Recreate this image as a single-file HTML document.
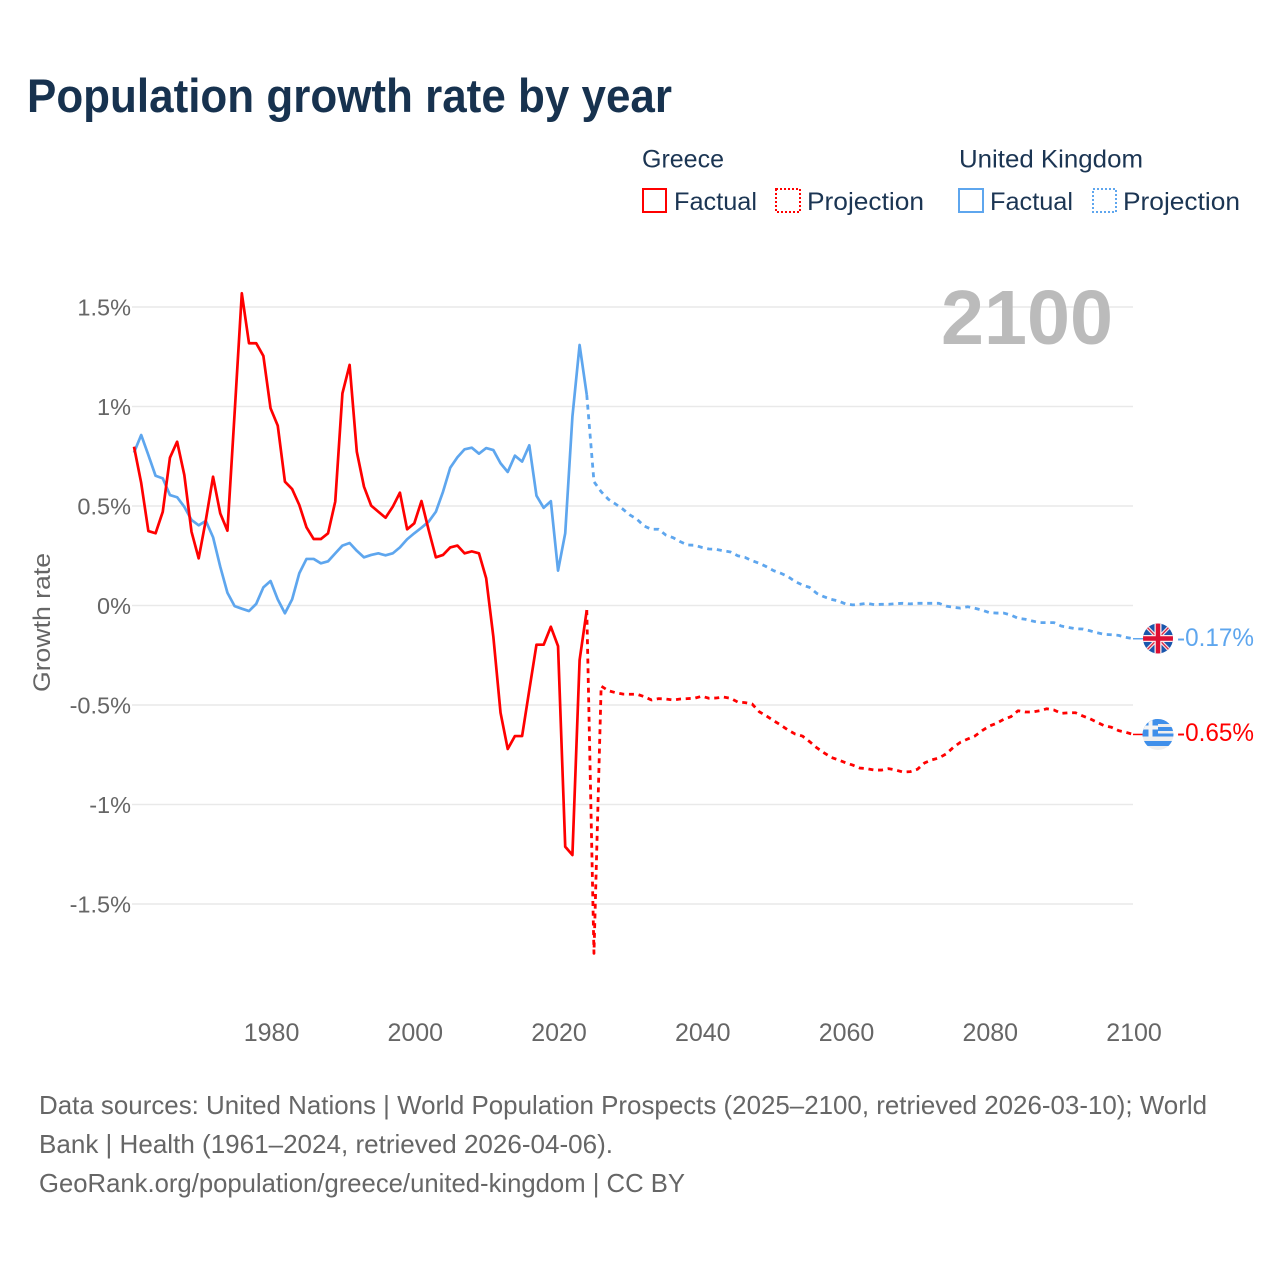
<!DOCTYPE html>
<html lang="en">
<head>
<meta charset="utf-8">
<title>Population growth rate by year</title>
<style>
html,body{margin:0;padding:0;background:#fff;width:1280px;height:1280px;overflow:hidden}
svg{display:block;font-family:"Liberation Sans",sans-serif}
</style>
</head>
<body>
<svg id="chart" width="1280" height="1280" viewBox="0 0 1280 1280" xmlns="http://www.w3.org/2000/svg">
  <defs>
    <clipPath id="uk-clip"><circle cx="1158" cy="638.5" r="15"/></clipPath>
    <clipPath id="gr-clip"><circle cx="1158" cy="734.5" r="15.5"/></clipPath>
  </defs>
  <rect x="0" y="0" width="1280" height="1280" fill="#ffffff"/>
  <text x="27" y="112" font-size="47" font-weight="700" fill="#17324f" textLength="645" lengthAdjust="spacingAndGlyphs">Population growth rate by year</text>

  <g font-size="25" fill="#1b3553">
    <text x="642" y="167.5" textLength="82" lengthAdjust="spacingAndGlyphs">Greece</text>
    <text x="959" y="167.5" textLength="184" lengthAdjust="spacingAndGlyphs">United Kingdom</text>
    <rect x="643" y="189" width="23" height="23" fill="none" stroke="#ff0000" stroke-width="2"/>
    <text x="674" y="210" textLength="83" lengthAdjust="spacingAndGlyphs">Factual</text>
    <rect x="776" y="189" width="24" height="23" fill="none" stroke="#ff0000" stroke-width="2" stroke-dasharray="2 2"/>
    <text x="807" y="210" textLength="117" lengthAdjust="spacingAndGlyphs">Projection</text>
    <rect x="959" y="189" width="24" height="23" fill="none" stroke="#5ea6ee" stroke-width="2"/>
    <text x="990" y="210" textLength="83" lengthAdjust="spacingAndGlyphs">Factual</text>
    <rect x="1093" y="189" width="23" height="23" fill="none" stroke="#5ea6ee" stroke-width="2" stroke-dasharray="2 2"/>
    <text x="1123" y="210" textLength="117" lengthAdjust="spacingAndGlyphs">Projection</text>
  </g>

  <g id="grid"></g>
  <g id="y-ticks" font-size="23.5" fill="#666666" text-anchor="end"></g>
  <g id="x-ticks" font-size="25" fill="#666666" text-anchor="middle"></g>
  <text transform="translate(50,622.5) rotate(-90)" font-size="24" fill="#666666" text-anchor="middle" textLength="139" lengthAdjust="spacingAndGlyphs">Growth rate</text>
  <text x="941" y="344" font-size="77" font-weight="700" fill="#bbbbbb" textLength="172" lengthAdjust="spacingAndGlyphs">2100</text>

  <g id="series" fill="none" stroke-linejoin="round"></g>

  <g clip-path="url(#uk-clip)">
    <rect x="1143" y="623" width="30" height="31" fill="#1a56ac"/>
    <path d="M1143 623 L1173 654 M1173 623 L1143 654" stroke="#f3dfe2" stroke-width="3.6"/>
    <path d="M1143 623 L1173 654 M1173 623 L1143 654" stroke="#d8203c" stroke-width="1.2"/>
    <path d="M1158 623 V654 M1143 638.5 H1173" stroke="#fbeaec" stroke-width="7"/>
    <path d="M1158 623 V654 M1143 638.5 H1173" stroke="#dc0f33" stroke-width="4.4"/>
  </g>
  <g clip-path="url(#gr-clip)">
    <rect x="1142" y="719" width="32" height="31" fill="#eeeeee"/>
    <rect x="1142" y="719" width="32" height="5" fill="#3f8fea"/>
    <rect x="1158" y="727" width="16" height="4" fill="#3f8fea"/>
    <rect x="1142" y="733.5" width="32" height="3" fill="#3f8fea"/>
    <rect x="1142" y="741" width="32" height="5" fill="#3f8fea"/>
    <rect x="1142" y="719" width="16" height="17.5" fill="#3f8fea"/>
    <rect x="1148.5" y="719" width="4" height="17.5" fill="#f4f4f4"/>
    <rect x="1142" y="725.5" width="16" height="4" fill="#f4f4f4"/>
  </g>
  <text x="1177" y="646" font-size="25" fill="#5ea6ee" textLength="77" lengthAdjust="spacingAndGlyphs">-0.17%</text>
  <text x="1177" y="741" font-size="25" fill="#ff0000" textLength="77" lengthAdjust="spacingAndGlyphs">-0.65%</text>

  <g font-size="26" fill="#666666">
    <text x="39" y="1114" textLength="1168" lengthAdjust="spacingAndGlyphs">Data sources: United Nations | World Population Prospects (2025–2100, retrieved 2026-03-10); World</text>
    <text x="39" y="1153" textLength="574" lengthAdjust="spacingAndGlyphs">Bank | Health (1961–2024, retrieved 2026-04-06).</text>
    <text x="39" y="1192" textLength="646" lengthAdjust="spacingAndGlyphs">GeoRank.org/population/greece/united-kingdom | CC BY</text>
  </g>
</svg>
<script>
const xTickYears = [1980, 2000, 2020, 2040, 2060, 2080, 2100];
const yTickValues = [1.5, 1, 0.5, 0, -0.5, -1, -1.5];
const yTickLabels = ['1.5%', '1%', '0.5%', '0%', '-0.5%', '-1%', '-1.5%'];
const factualStartYear = 1961;
const projectionStartYear = 2024;

const greeceFactual = [0.798,0.616,0.374,0.363,0.471,0.743,0.823,0.656,0.371,0.237,0.430,0.647,0.463,0.376,0.967,1.569,1.318,1.318,1.254,0.991,0.904,0.622,0.585,0.505,0.393,0.334,0.334,0.363,0.522,1.066,1.209,0.773,0.597,0.502,0.471,0.441,0.496,0.567,0.383,0.413,0.525,0.379,0.242,0.254,0.292,0.301,0.262,0.272,0.262,0.137,-0.157,-0.539,-0.721,-0.656,-0.656,-0.425,-0.197,-0.197,-0.107,-0.204,-1.212,-1.254,-0.274,-0.023];
const greeceProjection = [-0.023,-1.748,-0.405,-0.428,-0.438,-0.445,-0.446,-0.446,-0.458,-0.475,-0.468,-0.470,-0.475,-0.470,-0.468,-0.466,-0.456,-0.466,-0.465,-0.460,-0.466,-0.485,-0.488,-0.495,-0.534,-0.555,-0.579,-0.601,-0.626,-0.646,-0.656,-0.684,-0.715,-0.740,-0.763,-0.776,-0.790,-0.802,-0.817,-0.820,-0.827,-0.827,-0.820,-0.827,-0.837,-0.835,-0.823,-0.791,-0.776,-0.766,-0.746,-0.713,-0.687,-0.671,-0.656,-0.629,-0.606,-0.592,-0.572,-0.559,-0.529,-0.535,-0.535,-0.529,-0.519,-0.525,-0.542,-0.539,-0.539,-0.555,-0.569,-0.587,-0.604,-0.612,-0.629,-0.637,-0.648];
const ukFactual = [0.768,0.857,0.756,0.652,0.639,0.555,0.544,0.496,0.430,0.403,0.425,0.343,0.195,0.064,-0.003,-0.016,-0.028,0.008,0.091,0.123,0.031,-0.039,0.031,0.162,0.234,0.234,0.212,0.222,0.262,0.301,0.314,0.275,0.242,0.254,0.262,0.252,0.262,0.292,0.333,0.363,0.391,0.421,0.471,0.572,0.692,0.745,0.785,0.793,0.763,0.791,0.781,0.715,0.671,0.753,0.723,0.805,0.552,0.491,0.524,0.175,0.363,0.949,1.309,1.058];
const ukProjection = [1.058,0.622,0.572,0.534,0.510,0.485,0.455,0.433,0.399,0.383,0.383,0.354,0.341,0.321,0.304,0.303,0.292,0.284,0.282,0.275,0.269,0.250,0.242,0.225,0.212,0.195,0.175,0.162,0.145,0.120,0.103,0.091,0.061,0.044,0.031,0.023,0.008,0.003,0.006,0.011,0.004,0.006,0.006,0.009,0.011,0.008,0.011,0.011,0.011,0.011,-0.003,-0.009,-0.013,-0.006,-0.014,-0.023,-0.036,-0.038,-0.038,-0.048,-0.064,-0.069,-0.078,-0.086,-0.086,-0.086,-0.103,-0.110,-0.117,-0.118,-0.127,-0.137,-0.145,-0.147,-0.150,-0.160,-0.167];

const NS = 'http://www.w3.org/2000/svg';
const RED = '#ff0000';
const BLUE = '#5ea6ee';
function xScale(year) { return 134 + (year - 1961) * (1133 - 134) / 139; }
function yScale(value) { return 605.5 - value * 199; }
function linePath(values, startYear) {
  return values.map(function (v, i) {
    return (i ? 'L' : 'M') + xScale(startYear + i).toFixed(2) + ' ' + yScale(v).toFixed(2);
  }).join(' ');
}
function make(tag, attrs, parent) {
  const el = document.createElementNS(NS, tag);
  Object.keys(attrs).forEach(function (k) { el.setAttribute(k, attrs[k]); });
  parent.appendChild(el);
  return el;
}
const gridGroup = document.getElementById('grid');
const yTickGroup = document.getElementById('y-ticks');
const xTickGroup = document.getElementById('x-ticks');
const seriesGroup = document.getElementById('series');

yTickValues.forEach(function (v, i) {
  const y = yScale(v);
  const line = make('line', { x1: 132, x2: 1133, y1: y, y2: y, stroke: '#e9e9e9', 'stroke-width': 1.5 }, gridGroup);
  
  
  const label = make('text', { x: 131, y: y + 8.5 }, yTickGroup);
  label.textContent = yTickLabels[i];
  
  
});
xTickYears.forEach(function (yr) {
  const label = make('text', { x: xScale(yr) + 1, y: 1041 }, xTickGroup);
  label.textContent = String(yr);
  
  
});

const ukProjLine = make('path', { d: linePath(ukProjection, projectionStartYear), stroke: BLUE, 'stroke-width': 2.8, 'stroke-dasharray': '5 4.7' }, seriesGroup);


const ukFactLine = make('path', { d: linePath(ukFactual, factualStartYear), stroke: BLUE, 'stroke-width': 2.7 }, seriesGroup);


const grProjLine = make('path', { d: linePath(greeceProjection, projectionStartYear), stroke: RED, 'stroke-width': 2.8, 'stroke-dasharray': '5 4.7' }, seriesGroup);


const grFactLine = make('path', { d: linePath(greeceFactual, factualStartYear), stroke: RED, 'stroke-width': 2.7 }, seriesGroup);



const ukEnd = yScale(ukProjection[ukProjection.length - 1]);
const ukLeader = make('line', { x1: 1133, x2: 1144, y1: ukEnd, y2: ukEnd, stroke: BLUE, 'stroke-width': 1.5 }, seriesGroup);


const grEnd = yScale(greeceProjection[greeceProjection.length - 1]);
const grLeader = make('line', { x1: 1133, x2: 1144, y1: grEnd, y2: grEnd, stroke: RED, 'stroke-width': 1.5 }, seriesGroup);


</script>
</body>
</html>
